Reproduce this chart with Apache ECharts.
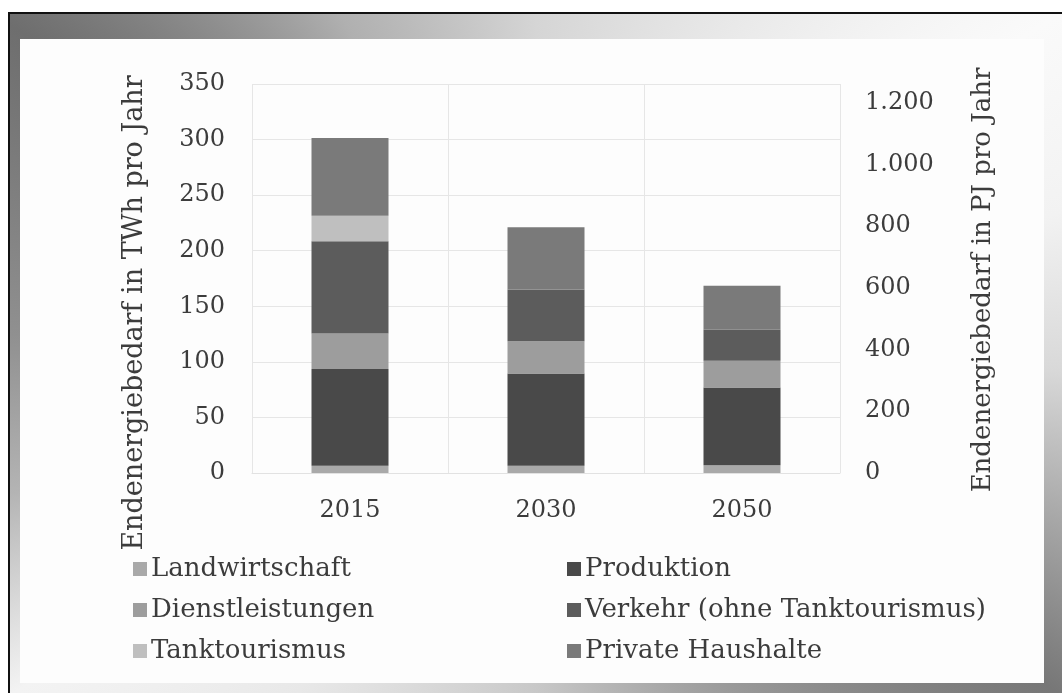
<!DOCTYPE html>
<html>
<head>
<meta charset="utf-8">
<script src="https://cdn.jsdelivr.net/npm/echarts@6/dist/echarts.min.js"></script>
<style>
html,body{margin:0;padding:0;background:#fff;width:1062px;height:693px;overflow:hidden;}
#frame{position:absolute;left:8px;top:12px;width:1054px;height:681px;box-sizing:border-box;
 border-left:2px solid #111;border-top:2px solid #111;
 background:conic-gradient(from 0deg at 50% 50%,
  #d5d5d5 0deg,#eeeeee 39deg,#fafafa 57deg,#f2f2f2 75deg,#d8d8d8 92deg,#9a9a9a 112deg,#777777 123deg,
  #9a9a9a 150deg,#c8c8c8 180deg,#e8e8e8 215deg,#f3f3f3 237deg,#b4b4b4 255deg,#909090 272deg,#6e6e6e 302deg,#b0b0b0 330deg,#d5d5d5 360deg);}
#panel{position:absolute;left:20px;top:39px;width:1024px;height:644px;background:#fdfdfd;}
#chart{position:absolute;left:0;top:0;width:1062px;height:693px;}
</style>
</head>
<body>
<div id="frame"></div>
<div id="panel"></div>
<div id="chart"></div>
<script>
const categories = ['2015', '2030', '2050'];
const landwirtschaft = [6.5, 6.5, 7];
const produktion = [87, 83, 70];
const dienstleistungen = [32, 29, 24];
const verkehr = [83, 46.5, 28];
const tanktourismus = [23, 0, 0];
const privateHaushalte = [70, 56, 39.5];
const leftTicks = {min: 0, max: 350, interval: 50};
const rightTicks = {min: 0, max: 1260, interval: 200};
const leftName = 'Endenergiebedarf in TWh pro Jahr';
const rightName = 'Endenergiebedarf in PJ pro Jahr';

const FONT = 'DejaVu Serif';
const TXT = '#3c3c3c';
const seriesDefs = [
  ['Landwirtschaft', landwirtschaft, '#a9a9a9'],
  ['Produktion', produktion, '#494949'],
  ['Dienstleistungen', dienstleistungen, '#9d9d9d'],
  ['Verkehr (ohne Tanktourismus)', verkehr, '#5c5c5c'],
  ['Tanktourismus', tanktourismus, '#bfbfbf'],
  ['Private Haushalte', privateHaushalte, '#7a7a7a']
];
function fmtDE(v){ return String(v).replace(/\B(?=(\d{3})+(?!\d))/g, '.'); }

const chart = echarts.init(document.getElementById('chart'), null, {renderer: 'canvas'});
const legendCommon = {
  orient: 'vertical', icon: 'rect', itemWidth: 14, itemHeight: 14, itemGap: 11,
  textStyle: {fontFamily: FONT, fontSize: 26, color: TXT, lineHeight: 30, padding: [0,0,0,-1]},
  selectedMode: false
};
chart.setOption({
  animation: false,
  backgroundColor: 'transparent',
  textStyle: {fontFamily: FONT},
  grid: {left: 252, top: 84, right: 222, bottom: 220},
  legend: [
    Object.assign({left: 128, top: 549, data: ['Landwirtschaft', 'Dienstleistungen', 'Tanktourismus']}, legendCommon),
    Object.assign({left: 562, top: 549, data: ['Produktion', 'Verkehr (ohne Tanktourismus)', 'Private Haushalte']}, legendCommon)
  ],
  xAxis: {
    type: 'category', data: categories,
    axisLine: {show: true, lineStyle: {color: '#e2e2e2', width: 1}},
    axisTick: {show: false},
    splitLine: {show: true, lineStyle: {color: '#e6e6e6', width: 1}},
    axisLabel: {fontFamily: FONT, fontSize: 24, color: TXT, margin: 26}
  },
  yAxis: [
    {
      type: 'value', min: leftTicks.min, max: leftTicks.max, interval: leftTicks.interval,
      axisLine: {show: false}, axisTick: {show: false},
      splitLine: {show: true, lineStyle: {color: '#e6e6e6', width: 1}},
      axisLabel: {fontFamily: FONT, fontSize: 24, color: TXT, margin: 27}
    },
    {
      type: 'value', min: rightTicks.min, max: rightTicks.max, interval: rightTicks.interval,
      position: 'right',
      axisLine: {show: false}, axisTick: {show: false}, splitLine: {show: false},
      axisLabel: {fontFamily: FONT, fontSize: 24, color: TXT, margin: 25, showMaxLabel: false,
        formatter: v => fmtDE(v)}
    }
  ],
  graphic: [
    {type: 'text', x: 135, y: 313, rotation: Math.PI / 2,
     style: {text: leftName, fontFamily: FONT, fontSize: 27, fill: TXT, align: 'center', verticalAlign: 'middle'}},
    {type: 'text', x: 983, y: 280, rotation: Math.PI / 2,
     style: {text: rightName, fontFamily: FONT, fontSize: 26, fill: TXT, align: 'center', verticalAlign: 'middle'}}
  ],
  series: seriesDefs.map(([name, data, color]) => ({
    name, type: 'bar', stack: 'total', data, barWidth: 77,
    itemStyle: {color}, emphasis: {disabled: true}
  }))
});
</script>
</body>
</html>
